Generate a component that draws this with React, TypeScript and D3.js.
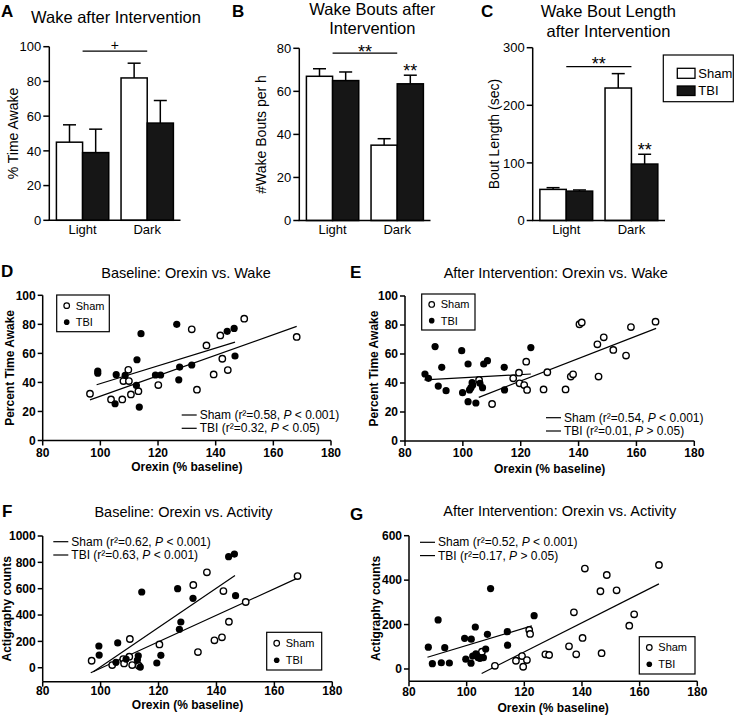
import React from "react";
import * as d3 from "d3";

const FONT = "'Liberation Sans', Arial, Helvetica, sans-serif";

// ---------- Bar panel data ----------
const barGroups = ["Light", "Dark"];
const barSeries = ["Sham", "TBI"];

const wakeShamMean = [45, 82];
const wakeShamSem = [10, 8.5];
const wakeTbiMean = [39, 56];
const wakeTbiSem = [13.5, 13];
const wakeTicks = [0, 20, 40, 60, 80, 100];

const boutsShamMean = [67, 35];
const boutsShamSem = [3.5, 3];
const boutsTbiMean = [65, 63.5];
const boutsTbiSem = [4, 4];
const boutsTicks = [0, 20, 40, 60, 80];

const lengthShamMean = [54, 230];
const lengthShamSem = [3, 25];
const lengthTbiMean = [51, 98];
const lengthTbiSem = [2, 17];
const lengthTicks = [0, 100, 200, 300];

// ---------- Scatter data ----------
const orexinTicks = [80, 100, 120, 140, 160, 180];
const wakePctTicks = [0, 20, 40, 60, 80, 100];
const actBaseTicks = [0, 200, 400, 600, 800, 1000];
const actAfterTicks = [0, 200, 400, 600];

const baseWakeSham = [[96.4,32.2],[103.7,28.3],[107.6,28.3],[108,40.9],[109.7,48.7],[109.9,40.9],[110.6,31.7],[113.2,34],[120.1,38.2],[131.7,76.6],[133.5,35],[136.8,65.5],[139.3,45.5],[141.6,72.4],[142.3,56.3],[144.2,48.5],[149.9,83.9],[168.1,71.3]];
const baseWakeTbi = [[99.1,47.8],[99.1,46.4],[105.1,25.3],[105.5,45.3],[108.6,44.8],[112.5,37.9],[112.7,55.6],[113.5,23],[114.1,73.6],[119.1,45.1],[120.9,45.1],[126.5,80],[127.2,41.8],[127.5,50.6],[131.7,52],[144,75.2],[146.4,77.2],[146.7,58.2]];
const baseWakeShamFit = [[96.4,28],[168.1,78.6]];
const baseWakeTbiFit = [[98.7,38.4],[146.7,67.8]];

const afterWakeSham = [[105.6,42.1],[110.1,25.5],[117.4,43.2],[119.4,47.1],[119.6,39.8],[121.2,38.6],[121.9,54.7],[122.2,35.2],[127.9,35.6],[129.2,47.4],[135.5,35.6],[137.3,44.4],[138.1,46],[140.3,80.5],[141.1,81.8],[146.5,66.7],[146.9,44.4],[148.7,71.5],[152,62.8],[156.4,58.9],[158.1,78.6],[166.6,82.3]];
const afterWakeTbi = [[86.9,46.2],[88.1,43.2],[90.4,65.1],[91.5,37.9],[92.7,50.8],[94.2,34.7],[99.6,62.3],[99.9,33.3],[101.8,53.1],[101.8,27.1],[102.3,35.2],[102.8,36.8],[103.2,40.2],[103.4,38.6],[104.5,26.2],[105.9,39.8],[106.8,36.8],[107.2,53.1],[108.5,55.4],[114.3,50.8],[114.4,35.2],[123.5,64.4]];
const afterWakeShamFit = [[105.5,30.1],[166.8,77.7]];
const afterWakeTbiFit = [[86.7,42.1],[123.5,46.2]];

const baseActSham = [[96.9,53],[104,20],[107.8,66],[108.1,33],[110.1,218],[109.9,84],[110.9,20],[113.2,15],[120.3,177],[132,628],[133.6,119],[136.7,724],[139.3,208],[141.9,231],[142.4,582],[144.3,349],[150.1,499],[168,696]];
const baseActTbi = [[99.4,165],[99.5,96],[105.3,41],[105.9,188],[108.8,66],[112.7,58],[113,91],[113.7,5],[114.2,575],[119.4,36],[120.8,94],[126.6,600],[127.2,292],[127.7,347],[131.9,527],[144.2,843],[146.2,863],[146.6,547]];
const baseActShamFit = [[96.6,-38],[168,680]];
const baseActTbiFit = [[97.5,-30],[146.4,700]];

const afterActSham = [[105.3,78],[109.8,14],[117.1,37],[119.2,58],[119.6,10],[120.9,40],[121.7,176],[122,158],[127.3,66],[128.6,63],[135.5,102],[137.2,255],[138,66],[140.2,140],[141,452],[146.4,350],[146.8,71],[148.6,423],[152,354],[156.4,195],[158.1,246],[166.7,468]];
const afterActTbi = [[86.7,98],[88.1,24],[90.1,221],[91.2,28],[92.4,96],[94,27],[99.3,138],[99.7,44],[101.6,134],[101.5,26],[102.1,58],[103,189],[103.2,68],[104,51],[104.6,48],[105.8,51],[106.6,90],[107.2,156],[108.3,362],[114.1,168],[114.2,107],[123.4,240]];
const afterActShamFit = [[105.2,-20],[166.7,383]];
const afterActTbiFit = [[86.4,53],[122.6,194]];

// ---------- Components ----------
function BarPanel(p: any) {
  const x = d3.scaleBand().domain(barGroups).range([p.x0, p.x1]).paddingInner(0.19).paddingOuter(0.11);
  const sub = d3.scaleBand().domain(barSeries).range([0, x.bandwidth()]);
  const y = d3.scaleLinear().domain([0, p.max]).range([p.bottom, p.top]);
  const bw = sub.bandwidth();
  const series = [
    { key: "Sham", mean: p.shamMean, sem: p.shamSem, fill: "#ffffff" },
    { key: "TBI", mean: p.tbiMean, sem: p.tbiSem, fill: "#161616" },
  ];
  const c0 = (x(barGroups[0]) as number) + x.bandwidth() / 2;
  const c1 = (x(barGroups[1]) as number) + x.bandwidth() / 2;
  const darkTbiX = (x("Dark") as number) + (sub("TBI") as number) + bw / 2;
  return (
    <g fontFamily={FONT}>
      {series.map((s) =>
        barGroups.map((g, i) => {
          const bx = (x(g) as number) + (sub(s.key) as number);
          const cx = bx + bw / 2;
          const top = y(s.mean[i]);
          const et = y(s.mean[i] + s.sem[i]);
          return (
            <g key={s.key + g}>
              <line x1={cx} x2={cx} y1={top} y2={et} stroke="#000" strokeWidth={1.5} />
              <line x1={cx - 6.5} x2={cx + 6.5} y1={et} y2={et} stroke="#000" strokeWidth={1.5} />
              <rect x={bx} y={top} width={bw} height={y(0) - top} fill={s.fill} stroke="#000" strokeWidth={1.5} />
            </g>
          );
        })
      )}
      <line x1={p.x0} x2={p.x0} y1={y(0)} y2={y(p.max)} stroke="#000" strokeWidth={1.5} />
      <line x1={p.x0 - 0.75} x2={p.x1} y1={y(0)} y2={y(0)} stroke="#000" strokeWidth={1.5} />
      {p.ticks.map((t: number) => (
        <g key={t}>
          <line x1={p.x0 - 6} x2={p.x0} y1={y(t)} y2={y(t)} stroke="#000" strokeWidth={1.5} />
          <text x={p.x0 - 8} y={y(t)} dy="0.36em" textAnchor="end" fontSize={13}>{t}</text>
        </g>
      ))}
      {barGroups.map((g) => (
        <text key={g} x={(x(g) as number) + x.bandwidth() / 2} y={234} textAnchor="middle" fontSize={13}>{g}</text>
      ))}
      <line x1={c0} x2={c1} y1={y(p.sigLevel)} y2={y(p.sigLevel)} stroke="#000" strokeWidth={1.3} />
      <text x={(c0 + c1) / 2} y={y(p.sigLevel) + p.sigDy} textAnchor="middle" fontSize={p.sigSize}>{p.sigLabel}</text>
      {p.darkStar && (
        <text x={darkTbiX} y={y(p.tbiMean[1] + p.tbiSem[1]) + 2} textAnchor="middle" fontSize={18}>**</text>
      )}
      <text transform={`translate(${p.ylabelX},${(y(0) + y(p.max)) / 2}) rotate(-90)`} dy="0.36em" textAnchor="middle" fontSize={14}>{p.ylabel}</text>
      {p.title.map((t: string, i: number) => (
        <text key={i} x={p.titleX} y={p.titleY[i]} textAnchor="middle" fontSize={16.5}>{t}</text>
      ))}
    </g>
  );
}

function RegText({ x, y, label, r2, rel, pv }: any) {
  return (
    <g>
      <line x1={x} x2={x + 15} y1={y - 4} y2={y - 4} stroke="#000" strokeWidth={1.2} />
      <text x={x + 18} y={y} fontSize={12}>
        {label} (r²={r2}, <tspan fontStyle="italic">P</tspan> {rel} {pv})
      </text>
    </g>
  );
}

function Legend({ x, y, w, h }: any) {
  return (
    <g>
      <rect x={x} y={y} width={w} height={h} fill="#fff" stroke="#000" strokeWidth={1.2} />
      <circle cx={x + 10} cy={y + h * 0.29} r={2.8} fill="#fff" stroke="#000" strokeWidth={1.2} />
      <text x={x + 19} y={y + h * 0.29} dy="0.36em" fontSize={11}>Sham</text>
      <circle cx={x + 10} cy={y + h * 0.74} r={2.8} fill="#000" />
      <text x={x + 19} y={y + h * 0.74} dy="0.36em" fontSize={11}>TBI</text>
    </g>
  );
}

function ScatterPanel(p: any) {
  const x = d3.scaleLinear().domain([80, 180]).range([p.x0, p.x1]);
  const y = d3.scaleLinear().domain(p.yDomain).range([p.bottom, p.top]);
  const yb = y(p.yDomain[0]);
  const tickOff = p.tickOff ?? 16;
  const line = d3.line<number[]>().x((d) => x(d[0])).y((d) => y(d[1]));
  return (
    <g fontFamily={FONT}>
      <line x1={p.x0} x2={p.x0} y1={yb} y2={y(p.yTicks[p.yTicks.length - 1])} stroke="#000" strokeWidth={1.5} />
      <line x1={p.x0} x2={p.x1} y1={yb} y2={yb} stroke="#000" strokeWidth={1.5} />
      {p.yTicks.map((t: number) => (
        <g key={t}>
          <line x1={p.x0 - 5} x2={p.x0} y1={y(t)} y2={y(t)} stroke="#000" strokeWidth={1.5} />
          <text x={p.x0 - 7} y={y(t)} dy="0.36em" textAnchor="end" fontSize={12} fontWeight="bold">{t}</text>
        </g>
      ))}
      {orexinTicks.map((t) => (
        <g key={t}>
          <line x1={x(t)} x2={x(t)} y1={yb} y2={yb + 5} stroke="#000" strokeWidth={1.5} />
          <text x={x(t)} y={yb + tickOff} textAnchor="middle" fontSize={12} fontWeight="bold">{t}</text>
        </g>
      ))}
      <path d={line(p.shamFit) as string} fill="none" stroke="#000" strokeWidth={1.2} />
      <path d={line(p.tbiFit) as string} fill="none" stroke="#000" strokeWidth={1.2} />
      {p.sham.map((d: number[], i: number) => (
        <circle key={"s" + i} cx={x(d[0])} cy={y(d[1])} r={3.2} fill="#fff" stroke="#000" strokeWidth={1.4} />
      ))}
      {p.tbi.map((d: number[], i: number) => (
        <circle key={"t" + i} cx={x(d[0])} cy={y(d[1])} r={3.6} fill="#000" />
      ))}
      <text x={(p.x0 + p.x1) / 2} y={p.xlabelY} textAnchor="middle" fontSize={12} fontWeight="bold">Orexin (% baseline)</text>
      <text transform={`translate(${p.ylabelX},${(yb + p.top) / 2}) rotate(-90)`} dy="0.36em" textAnchor="middle" fontSize={12} fontWeight="bold">{p.ylabel}</text>
      <text x={p.titleX} y={p.titleY} textAnchor="middle" fontSize={14.5}>{p.title}</text>
      <Legend {...p.legend} />
      <RegText x={p.reg.x} y={p.reg.y} label="Sham" r2={p.reg.s[0]} rel={p.reg.s[1]} pv={p.reg.s[2]} />
      <RegText x={p.reg.x} y={p.reg.y + 13.3} label="TBI" r2={p.reg.t[0]} rel={p.reg.t[1]} pv={p.reg.t[2]} />
    </g>
  );
}

function Letter({ x, y, t }: any) {
  return <text x={x} y={y} fontFamily={FONT} fontSize={17} fontWeight="bold">{t}</text>;
}

export default function App() {
  return (
    <svg width={741} height={716} style={{ position: "absolute", left: 0, top: 0, background: "#fff" }}>
      <rect width={741} height={716} fill="#fff" />
      <Letter x={1} y={17} t="A" />
      <Letter x={232} y={17} t="B" />
      <Letter x={481} y={17} t="C" />
      <Letter x={1} y={277} t="D" />
      <Letter x={350} y={278} t="E" />
      <Letter x={2} y={517} t="F" />
      <Letter x={350} y={520} t="G" />

      <BarPanel x0={49.3} x1={180.5} bottom={220.3} top={46.7} max={100} ticks={wakeTicks}
        shamMean={wakeShamMean} shamSem={wakeShamSem} tbiMean={wakeTbiMean} tbiSem={wakeTbiSem}
        sigLevel={97.5} sigLabel="+" sigSize={14} sigDy={-1.5} darkStar={false}
        ylabel="% Time Awake" ylabelX={12.7} title={["Wake after Intervention"]} titleX={116} titleY={[22.5]} />
      <BarPanel x0={299.3} x1={430.5} bottom={220.5} top={48.3} max={80} ticks={boutsTicks}
        shamMean={boutsShamMean} shamSem={boutsShamSem} tbiMean={boutsTbiMean} tbiSem={boutsTbiSem}
        sigLevel={77.8} sigLabel="**" sigSize={18} sigDy={4.5} darkStar={true}
        ylabel="#Wake Bouts per h" ylabelX={260.8} title={["Wake Bouts after", "Intervention"]} titleX={372.3} titleY={[15, 33.5]} />
      <BarPanel x0={532.7} x1={665} bottom={220.5} top={47.7} max={300} ticks={lengthTicks}
        shamMean={lengthShamMean} shamSem={lengthShamSem} tbiMean={lengthTbiMean} tbiSem={lengthTbiSem}
        sigLevel={267} sigLabel="**" sigSize={18} sigDy={3.6} darkStar={true}
        ylabel="Bout Length (sec)" ylabelX={493.7} title={["Wake Bout Length", "after Intervention"]} titleX={608.4} titleY={[16.5, 36.5]} />

      <g fontFamily={FONT}>
        <rect x={663.3} y={55} width={70} height={46.7} fill="#fff" stroke="#000" strokeWidth={1.2} />
        <rect x={677.3} y={68.3} width={17.7} height={10} fill="#fff" stroke="#000" strokeWidth={1.3} />
        <text x={698.3} y={78} fontSize={13}>Sham</text>
        <rect x={677.3} y={86} width={17.7} height={9.5} fill="#161616" stroke="#000" strokeWidth={1.3} />
        <text x={698.3} y={95.3} fontSize={13}>TBI</text>
      </g>

      <ScatterPanel x0={42.7} x1={331} bottom={440.5} top={295.3} yDomain={[0, 100]} yTicks={wakePctTicks}
        sham={baseWakeSham} tbi={baseWakeTbi} shamFit={baseWakeShamFit} tbiFit={baseWakeTbiFit}
        ylabel="Percent Time Awake" ylabelX={10} xlabelY={471} title="Baseline: Orexin vs. Wake" titleX={186} titleY={278}
        legend={{ x: 56.7, y: 295, w: 52.6, h: 36.7 }}
        reg={{ x: 181.7, y: 419, s: ["0.58", "<", "0.001"], t: ["0.32", "<", "0.05"] }} />
      <ScatterPanel x0={405} x1={694.3} bottom={441} top={296} yDomain={[0, 100]} yTicks={wakePctTicks}
        sham={afterWakeSham} tbi={afterWakeTbi} shamFit={afterWakeShamFit} tbiFit={afterWakeTbiFit}
        ylabel="Percent Time Awake" ylabelX={374} xlabelY={472.5} title="After Intervention: Orexin vs. Wake" titleX={555.8} titleY={278}
        legend={{ x: 421.7, y: 294, w: 53.3, h: 36 }}
        reg={{ x: 546, y: 421.7, s: ["0.54", "<", "0.001"], t: ["0.01", ">", "0.05"] }} />
      <ScatterPanel x0={42.7} x1={332.3} bottom={681.7} top={536} yDomain={[-106, 1000]} yTicks={actBaseTicks}
        sham={baseActSham} tbi={baseActTbi} shamFit={baseActShamFit} tbiFit={baseActTbiFit}
        ylabel="Actigraphy counts" ylabelX={7} xlabelY={709} tickOff={13.5} title="Baseline: Orexin vs. Activity" titleX={183.5} titleY={516.7}
        legend={{ x: 266.7, y: 632.3, w: 55, h: 37.7 }}
        reg={{ x: 53.3, y: 545.7, s: ["0.62", "<", "0.001"], t: ["0.63", "<", "0.001"] }} />
      <ScatterPanel x0={409} x1={697.3} bottom={681.2} top={535.7} yDomain={[-55, 600]} yTicks={actAfterTicks}
        sham={afterActSham} tbi={afterActTbi} shamFit={afterActShamFit} tbiFit={afterActTbiFit}
        ylabel="Actigraphy counts" ylabelX={376} xlabelY={712} tickOff={15} title="After Intervention: Orexin vs. Activity" titleX={559.7} titleY={516}
        legend={{ x: 639.3, y: 636.7, w: 55.7, h: 37.3 }}
        reg={{ x: 420, y: 546.3, s: ["0.52", "<", "0.001"], t: ["0.17", ">", "0.05"] }} />
    </svg>
  );
}
